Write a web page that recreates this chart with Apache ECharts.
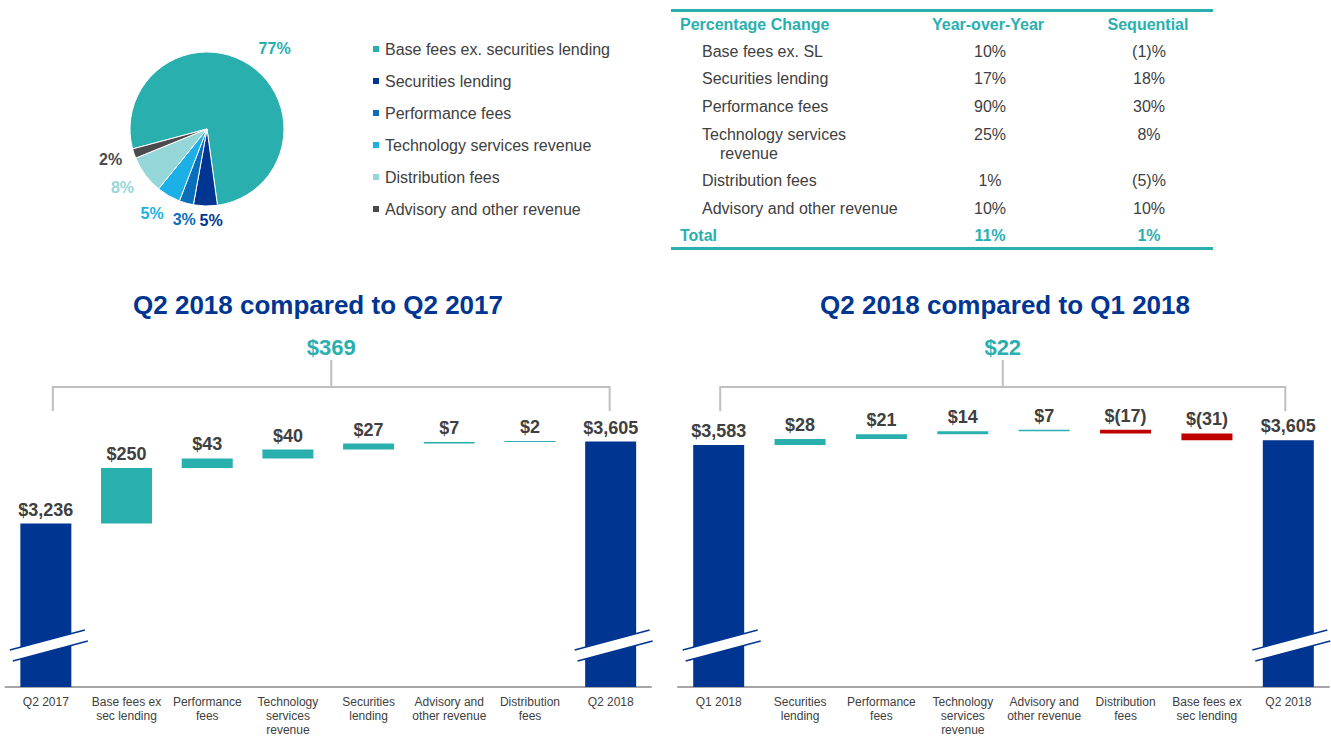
<!DOCTYPE html>
<html>
<head>
<meta charset="utf-8">
<script src="https://cdn.jsdelivr.net/npm/echarts@6/dist/echarts.min.js"></script>
<style>
html,body{margin:0;padding:0;background:#ffffff;}
#c{width:1331px;height:746px;}
</style>
</head>
<body>
<div id="c"></div>
<script>
// ---------------- DATA ----------------
const pieCategories = ['Base fees ex. securities lending','Securities lending','Performance fees','Technology services revenue','Distribution fees','Advisory and other revenue'];
const pieShares = [77, 5, 3, 5, 8, 2];

const tableHeader = ['Percentage Change', 'Year-over-Year', 'Sequential'];
const tableRows = ['Base fees ex. SL', 'Securities lending', 'Performance fees', 'Technology services\nrevenue', 'Distribution fees', 'Advisory and other revenue'];
const yoyChange = ['10%', '17%', '90%', '25%', '1%', '10%'];
const seqChange = ['(1)%', '18%', '30%', '8%', '(5)%', '10%'];
const totalRow = ['Total', '11%', '1%'];

const yoyTitle = 'Q2 2018 compared to Q2 2017';
const yoyCategories = ['Q2 2017', 'Base fees ex\nsec lending', 'Performance\nfees', 'Technology\nservices\nrevenue', 'Securities\nlending', 'Advisory and\nother revenue', 'Distribution\nfees', 'Q2 2018'];
const yoyStart = 3236;
const yoyDeltas = [250, 43, 40, 27, 7, 2];
const yoyEnd = 3605;
const yoyTotalChange = 369;

const seqTitle = 'Q2 2018 compared to Q1 2018';
const seqCategories = ['Q1 2018', 'Securities\nlending', 'Performance\nfees', 'Technology\nservices\nrevenue', 'Advisory and\nother revenue', 'Distribution\nfees', 'Base fees ex\nsec lending', 'Q2 2018'];
const seqStart = 3583;
const seqDeltas = [28, 21, 14, 7, -17, -31];
const seqEnd = 3605;
const seqTotalChange = 22;

// ---------------- STYLE ----------------
const FONT = '"Liberation Sans", Arial, Helvetica, sans-serif';
const TEAL = '#29AFAE', NAVY = '#003591', RED = '#C00000', TXT = '#404040', GRAY = '#BFBFBF';
const pieColors = ['#29AFAE', '#003591', '#0A6FBA', '#1CB0E6', '#95D7D9', '#4B4B4D'];
const pieLabelNudge = [[12, 3], [6, -2], [3, -2], [-6, 0], [-5, -1], [-3, -1]];
const PIE_CX = 207, PIE_CY = 129, PIE_R = 77, PIE_START = 195;

function money(v) { return '$' + Number(v).toLocaleString('en-US'); }

function waterfall(start, deltas, end) {
  const base = [0], total = [start], up = ['-'], down = ['-'];
  let cum = start;
  deltas.forEach(function (d) {
    if (d >= 0) { base.push(cum); up.push(d); down.push('-'); }
    else { base.push(cum + d); down.push(-d); up.push('-'); }
    total.push('-');
    cum += d;
  });
  base.push(0); total.push(end); up.push('-'); down.push('-');
  return { base: base, total: total, up: up, down: down };
}

const labelCommon = { show: true, position: 'top', distance: 5, fontSize: 18, fontWeight: 'bold', color: TXT, fontFamily: FONT };

function barSeries(w, i) {
  const stack = 'w' + i;
  return [
    { type: 'bar', name: 'base' + i, stack: stack, xAxisIndex: i, yAxisIndex: i, barWidth: 51, silent: true,
      itemStyle: { color: 'rgba(0,0,0,0)' }, data: w.base },
    { type: 'bar', name: 'total' + i, stack: stack, xAxisIndex: i, yAxisIndex: i, barWidth: 51,
      itemStyle: { color: NAVY }, data: w.total,
      label: Object.assign({}, labelCommon, { formatter: function (p) { return money(p.value); } }) },
    { type: 'bar', name: 'up' + i, stack: stack, xAxisIndex: i, yAxisIndex: i, barWidth: 51, barMinHeight: 1,
      itemStyle: { color: TEAL }, data: w.up,
      label: Object.assign({}, labelCommon, { formatter: function (p) { return money(p.value); } }) },
    { type: 'bar', name: 'down' + i, stack: stack, xAxisIndex: i, yAxisIndex: i, barWidth: 51, barMinHeight: 1,
      itemStyle: { color: RED }, data: w.down,
      label: Object.assign({}, labelCommon, { formatter: function (p) { return '$(' + p.value + ')'; } }) }
  ];
}

const yoyW = waterfall(yoyStart, yoyDeltas, yoyEnd);
const seqW = waterfall(seqStart, seqDeltas, seqEnd);

const pieTotal = pieShares.reduce(function (a, b) { return a + b; }, 0);
function pieMidAngle(idx) {
  let cum = 0;
  for (let k = 0; k < idx; k++) cum += pieShares[k];
  return (PIE_START - (cum + pieShares[idx] / 2) / pieTotal * 360) * Math.PI / 180;
}

function xAxisFor(cats, i) {
  return { type: 'category', gridIndex: i, data: cats,
    axisLine: { lineStyle: { color: '#A6A6A6', width: 2 } },
    axisTick: { show: false },
    axisLabel: { interval: 0, fontSize: 12, lineHeight: 14, margin: 8, color: TXT, fontFamily: FONT } };
}

const chart = echarts.init(document.getElementById('c'), null, { renderer: 'svg' });

chart.setOption({
  animation: false,
  textStyle: { fontFamily: FONT },
  title: [
    { text: yoyTitle, left: 313, top: 287, textAlign: 'center',
      textStyle: { fontSize: 26, fontWeight: 'bold', color: NAVY, fontFamily: FONT } },
    { text: seqTitle, left: 1000, top: 287, textAlign: 'center',
      textStyle: { fontSize: 26, fontWeight: 'bold', color: NAVY, fontFamily: FONT } }
  ],
  legend: {
    orient: 'vertical', left: 371, top: 41, padding: 0, itemWidth: 8, itemHeight: 8, itemGap: 16, icon: 'rect',
    data: pieCategories, selectedMode: false,
    textStyle: { fontSize: 16, color: TXT, lineHeight: 16, fontFamily: FONT }
  },
  grid: [
    { left: 5.5, width: 645.5, top: 376, bottom: 59, outerBoundsMode: 'none' },
    { left: 678, width: 651, top: 376, bottom: 59, outerBoundsMode: 'none' }
  ],
  xAxis: [xAxisFor(yoyCategories, 0), xAxisFor(seqCategories, 1)],
  yAxis: [
    { type: 'value', gridIndex: 0, min: 2500, max: 3900, show: false },
    { type: 'value', gridIndex: 1, min: 2483, max: 3897, show: false }
  ],
  series: [
    {
      type: 'pie', center: [PIE_CX, PIE_CY], radius: PIE_R, startAngle: PIE_START, clockwise: true,
      avoidLabelOverlap: false,
      itemStyle: { borderColor: '#ffffff', borderWidth: 1 },
      labelLine: { show: false, length: 6, length2: 0 },
      label: { show: true, position: 'outside', formatter: '{c}%', fontSize: 16, fontWeight: 'bold', fontFamily: FONT },
      labelLayout: function (p) {
        const a = pieMidAngle(p.dataIndex);
        const dx = Math.cos(a), dy = -Math.sin(a);
        const w = p.labelRect.width, h = p.labelRect.height;
        const R = PIE_R + 8 + Math.abs(dx) * w / 2 + Math.abs(dy) * h / 2;
        const n = pieLabelNudge[p.dataIndex];
        return { x: PIE_CX + dx * R + n[0], y: PIE_CY + dy * R + n[1], align: 'center', verticalAlign: 'middle' };
      },
      data: pieCategories.map(function (n, k) {
        return { name: n, value: pieShares[k], itemStyle: { color: pieColors[k] }, label: { color: pieColors[k] } };
      })
    }
  ].concat(barSeries(yoyW, 0), barSeries(seqW, 1))
});

// ---------------- DECORATION (table, brackets, axis breaks) ----------------
const g = [];
// Table
const TX0 = 671, TX1 = 1213, COL_L = 680, COL_IND = 702, COL_IND2 = 720, COL_Y = 990, COL_S = 1149;
g.push({ type: 'line', shape: { x1: TX0, y1: 10.5, x2: TX1, y2: 10.5 }, style: { stroke: TEAL, lineWidth: 3 } });
g.push({ type: 'text', x: COL_L, y: 24, style: { text: tableHeader[0], fill: TEAL, fontSize: 16, fontWeight: 'bold', fontFamily: FONT, align: 'left', verticalAlign: 'middle' } });
g.push({ type: 'text', x: COL_Y - 2, y: 24, style: { text: tableHeader[1], fill: TEAL, fontSize: 16, fontWeight: 'bold', fontFamily: FONT, align: 'center', verticalAlign: 'middle' } });
g.push({ type: 'text', x: COL_S - 1, y: 24, style: { text: tableHeader[2], fill: TEAL, fontSize: 16, fontWeight: 'bold', fontFamily: FONT, align: 'center', verticalAlign: 'middle' } });
let ry = 51;
tableRows.forEach(function (lab, k) {
  const lines = lab.split('\n');
  lines.forEach(function (ln, j) {
    g.push({ type: 'text', x: j === 0 ? COL_IND : COL_IND2, y: ry + j * 19, style: { text: ln, fill: TXT, fontSize: 16, fontFamily: FONT, align: 'left', verticalAlign: 'middle' } });
  });
  g.push({ type: 'text', x: COL_Y, y: ry, style: { text: yoyChange[k], fill: TXT, fontSize: 16, fontFamily: FONT, align: 'center', verticalAlign: 'middle' } });
  g.push({ type: 'text', x: COL_S, y: ry, style: { text: seqChange[k], fill: TXT, fontSize: 16, fontFamily: FONT, align: 'center', verticalAlign: 'middle' } });
  ry += 27.7 + (lines.length - 1) * 18.5;
});
g.push({ type: 'text', x: COL_L, y: ry, style: { text: totalRow[0], fill: TEAL, fontSize: 16, fontWeight: 'bold', fontFamily: FONT, align: 'left', verticalAlign: 'middle' } });
g.push({ type: 'text', x: COL_Y, y: ry, style: { text: totalRow[1], fill: TEAL, fontSize: 16, fontWeight: 'bold', fontFamily: FONT, align: 'center', verticalAlign: 'middle' } });
g.push({ type: 'text', x: COL_S, y: ry, style: { text: totalRow[2], fill: TEAL, fontSize: 16, fontWeight: 'bold', fontFamily: FONT, align: 'center', verticalAlign: 'middle' } });
g.push({ type: 'line', shape: { x1: TX0, y1: 248.5, x2: TX1, y2: 248.5 }, style: { stroke: TEAL, lineWidth: 3 } });

// Brackets and breaks for each waterfall
function decorate(i, nCats, totalChange, leftShift, rightShift) {
  const x0 = chart.convertToPixel({ xAxisIndex: i }, 0) + leftShift;
  const x1 = chart.convertToPixel({ xAxisIndex: i }, nCats - 1) + rightShift;
  const yBase = chart.convertToPixel({ yAxisIndex: i }, i === 0 ? 2500 : 2483);
  const yb = 387, yLeg = 411, yStem = 360;
  const xm = (x0 + x1) / 2;
  const ls = { stroke: GRAY, lineWidth: 2 };
  g.push({ type: 'polyline', shape: { points: [[x0, yLeg], [x0, yb], [x1, yb], [x1, yLeg]] }, style: Object.assign({ fill: null }, ls) });
  g.push({ type: 'line', shape: { x1: xm, y1: yStem, x2: xm, y2: yb }, style: ls });
  g.push({ type: 'text', x: xm, y: 347, style: { text: money(totalChange), fill: TEAL, fontSize: 22, fontWeight: 'bold', fontFamily: FONT, align: 'center', verticalAlign: 'middle' } });
  [0, nCats - 1].forEach(function (ci) {
    const cx = chart.convertToPixel({ xAxisIndex: i }, ci);
    const py = yBase - 42;
    g.push({ type: 'polygon', z: 100, shape: { points: [[cx - 36, py + 5], [cx + 39, py - 15], [cx + 42, py - 4], [cx - 33, py + 16]] }, style: { fill: '#ffffff' } });
    g.push({ type: 'line', z: 101, shape: { x1: cx - 36, y1: py + 5, x2: cx + 39, y2: py - 15 }, style: { stroke: NAVY, lineWidth: 1.5 } });
    g.push({ type: 'line', z: 101, shape: { x1: cx - 33, y1: py + 16, x2: cx + 42, y2: py - 4 }, style: { stroke: NAVY, lineWidth: 1.5 } });
  });
}
decorate(0, yoyCategories.length, yoyTotalChange, 7, -1);
decorate(1, seqCategories.length, seqTotalChange, 1.5, -3);

chart.setOption({ graphic: g });
</script>
</body>
</html>
